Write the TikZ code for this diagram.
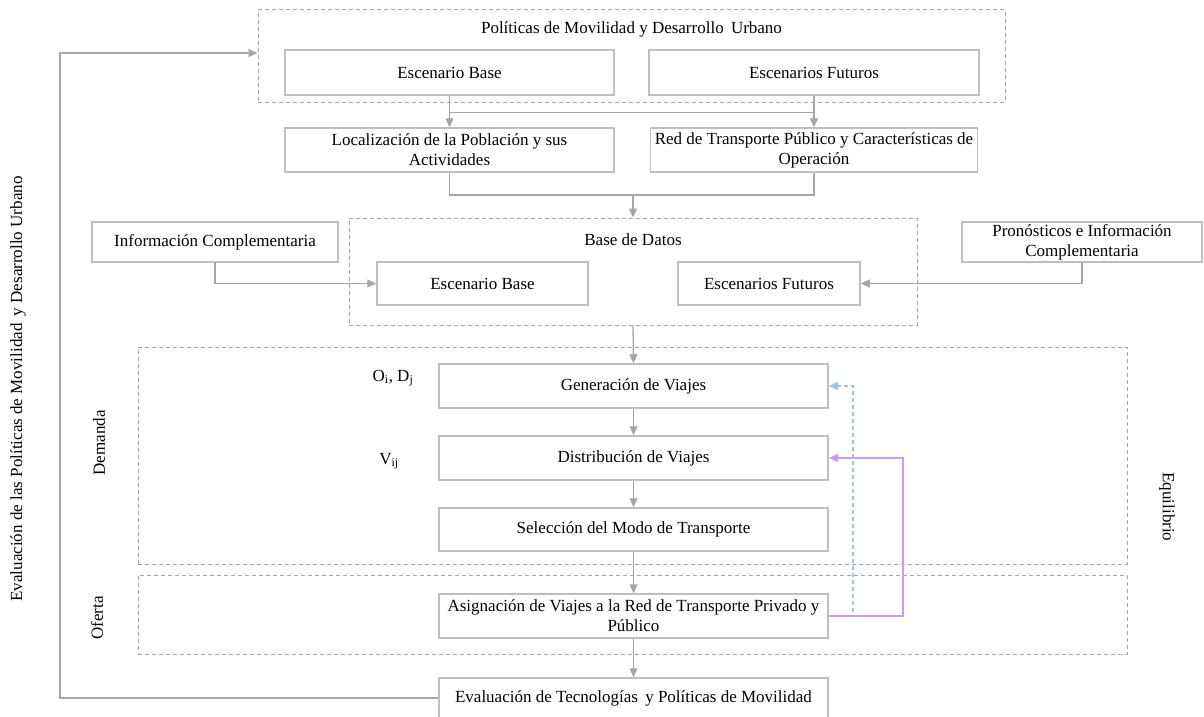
\documentclass[tikz,border=0pt]{standalone}
\usepackage{fontspec}
\setmainfont{Liberation Serif}
\usetikzlibrary{arrows.meta}
\definecolor{boxgray}{HTML}{BFBFBF}
\definecolor{linegray}{HTML}{A6A6A6}
\definecolor{fbblue}{HTML}{9DC3E6}
\definecolor{fbpurple}{HTML}{CC99FF}
\begin{document}
\begin{tikzpicture}[x=1pt,y=-1pt,
  every node/.style={font=\fontsize{17}{20}\selectfont, text=black},
  procbox/.style={draw=boxgray, line width=1.5pt, fill=white, inner sep=0pt, align=center},
  groupbox/.style={draw=linegray, line width=1pt, dash pattern=on 4pt off 3pt, inner sep=0pt},
  conn/.style={draw=linegray, line width=1.3pt},
  arr/.style={conn, -{Triangle[length=9pt,width=8pt]}},
  label/.style={inner sep=0pt}
]
\useasboundingbox (0,0) rectangle (1204,717);

% dashed groups
\node[groupbox, minimum width=747pt, minimum height=92pt] (pol) at (631.5,56) {};
\node[label] (poltitle) at (631.5,29) {Políticas de Movilidad y Desarrollo\hspace{3pt} Urbano};
\node[groupbox, minimum width=568pt, minimum height=107pt] (bd) at (633,271.5) {};
\node[label] (bdtitle) at (633,240) {Base de Datos};
\node[groupbox, minimum width=989pt, minimum height=217pt] (dem) at (632.5,455.5) {};
\node[groupbox, minimum width=989pt, minimum height=79pt] (ofe) at (632.5,614.5) {};

% scenario boxes
\node[procbox, minimum width=329pt, minimum height=45pt] (eb) at (449.5,72.5) {Escenario Base};
\node[procbox, minimum width=330pt, minimum height=45pt] (ef) at (814,72.5) {Escenarios Futuros};
\node[procbox, minimum width=329pt, minimum height=44pt] (loc) at (449.5,150) {Localización de la Población y sus\\Actividades};
\node[procbox, minimum width=327pt, minimum height=44pt] (red) at (814,150) {Red de Transporte Público y Características de\\Operación};

% data base
\node[procbox, minimum width=246pt, minimum height=40pt] (info) at (215,242) {Información Complementaria};
\node[procbox, minimum width=240pt, minimum height=40pt] (pron) at (1082,242) {Pronósticos e Información\\Complementaria};
\node[procbox, minimum width=211pt, minimum height=43pt] (bdeb) at (482.5,283.5) {Escenario Base};
\node[procbox, minimum width=182pt, minimum height=43pt] (bdef) at (769,283.5) {Escenarios Futuros};

% four-step model
\node[procbox, minimum width=389pt, minimum height=44pt] (gen) at (633.5,386) {Generación de Viajes};
\node[procbox, minimum width=389pt, minimum height=44pt] (dis) at (633.5,458) {Distribución de Viajes};
\node[procbox, minimum width=389pt, minimum height=43pt] (sel) at (633.5,529.5) {Selección del Modo de Transporte};
\node[procbox, minimum width=389pt, minimum height=44pt] (asig) at (633.5,616) {Asignación de Viajes a la Red de Transporte Privado y\\Público};
\node[procbox, minimum width=389pt, minimum height=40pt] (eva) at (633.5,698) {Evaluación de Tecnologías\hspace{3pt} y Políticas de Movilidad};

% side labels
\node[label] (od) at (393,378) {O\textsubscript{i}, D\textsubscript{j}};
\node[label] (vij) at (389,461) {V\textsubscript{ij}};
\node[label, rotate=90] (evalpol) at (18,389) {Evaluación de las Políticas de Movilidad\hspace{3pt} y Desarrollo Urbano};
\node[label, rotate=90] (demlab) at (99,443) {Demanda};
\node[label, rotate=90] (ofelab) at (97,618) {Oferta};
\node[label, rotate=-90] (eqlab) at (1167,507) {Equilibrio};

% connectors
\draw[arr] (eb.south) -- (loc.north);
\draw[arr] (ef.south) -- (red.north);
\path (eb.south) ++(0,17) coordinate (j1);
\draw[conn] (j1) -- (j1 -| ef.south);

\coordinate (j2) at (633,195);
\draw[conn] (loc.south) |- (j2);
\draw[conn] (red.south) |- (j2);
\draw[arr] (j2) -- (bd.north);

\draw[arr] (info.south) |- (bdeb.west);
\draw[arr] (pron.south) |- (bdef.east);

\draw[arr] (bd.south) -- (gen.north);
\draw[arr] (gen) -- (dis);
\draw[arr] (dis) -- (sel);
\draw[arr] (sel) -- (asig);
\draw[arr] (asig) -- (eva);

\coordinate (fb) at (60,53);
\draw[arr] (eva.west) -| (fb) -- (fb -| pol.west);

\coordinate (blc) at (853,386);
\draw[conn, draw=fbblue, dash pattern=on 4pt off 3pt, -{Triangle[length=9pt,width=8pt]}] (asig.east) -| (blc) -- (gen.east);
\coordinate (plc) at (903,458);
\draw[conn, draw=fbpurple, -{Triangle[length=9pt,width=8pt]}] (asig.east) -| (plc) -- (dis.east);
\end{tikzpicture}
\end{document}
